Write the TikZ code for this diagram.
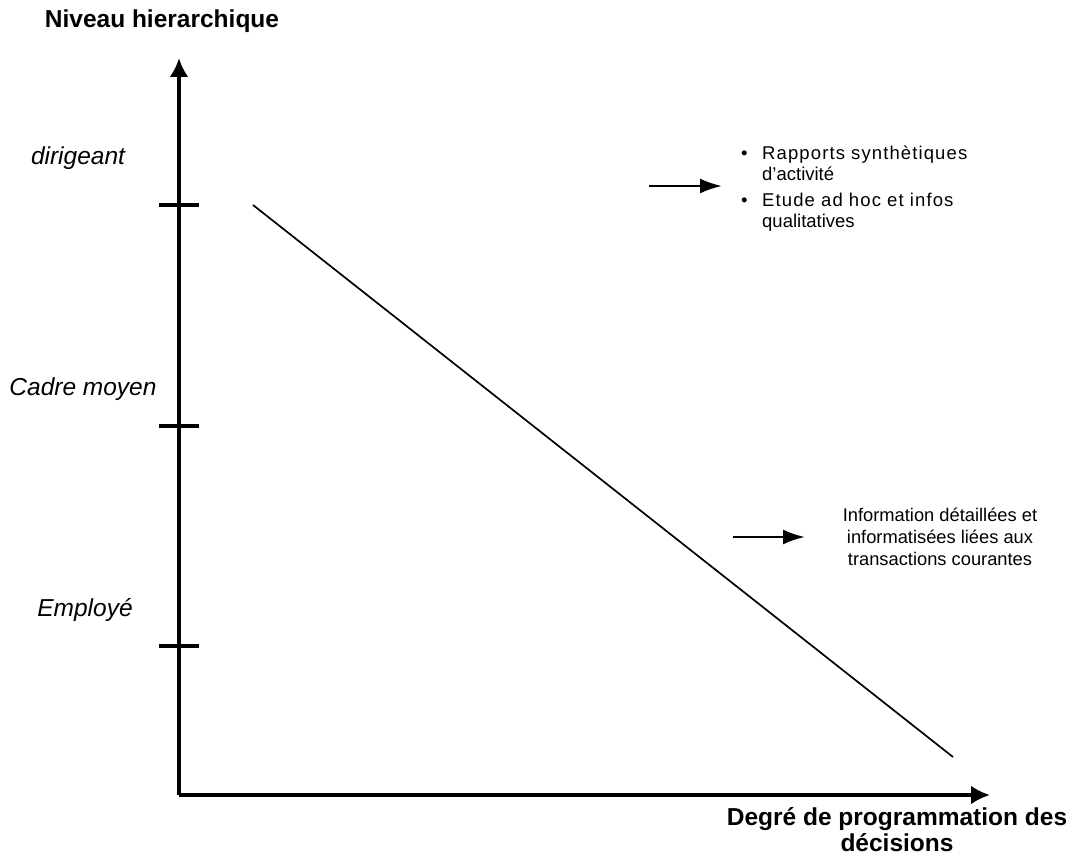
\documentclass[tikz,border=0pt]{standalone}
\usepackage{fontspec}
\setmainfont{Liberation Sans}
\usetikzlibrary{positioning,arrows.meta}
\tikzset{
  axisline/.style={-{Latex[length=19pt,width=19pt]}, line width=4pt},
  tickline/.style={line width=3.5pt},
  trendline/.style={line width=1.7pt},
  pointer/.style={-{Latex[length=22pt,width=15pt]}, line width=2.5pt},
  axislabel/.style={font=\fontsize{24.5}{26}\selectfont\bfseries, align=center, inner sep=0pt},
  levellabel/.style={font=\fontsize{24.5}{28}\selectfont\itshape, inner sep=0pt},
  infotext/.style={font=\fontsize{18.3}{22}\selectfont, align=center, inner sep=0pt}
}

\begin{document}
\begin{tikzpicture}[x=1pt, y=-1pt]
  \useasboundingbox (0,0) rectangle (1075,856);
  % axes
  \coordinate (o) at (179,795);
  \coordinate (ytop) at (179,58);
  \coordinate (xend) at (990,795);
  \draw[axisline] (o) -- (ytop);
  \draw[axisline] (o) -- (xend);
  \node[axislabel] (ylab) at (162,21) {Niveau hierarchique};
  \node[axislabel] (xlab) at (897,830) {Degré de programmation des\\décisions};
  % levels
  \foreach \name/\y in {dir/205, cad/426, emp/646} {
    \coordinate (\name l) at (159,\y);
    \coordinate (\name r) at (199,\y);
    \draw[tickline] (\name l) -- (\name r);
  }
  \node[levellabel] (dirlab) at (78,158) {dirigeant};
  \node[levellabel] (cadlab) at (83,389) {Cadre moyen};
  \node[levellabel] (emplab) at (85,610) {Employé};
  % trend
  \coordinate (t1) at (253,205);
  \coordinate (t2) at (953,757);
  \draw[trendline] (t1) -- (t2);
  % top note
  \node[anchor=north west, inner sep=0pt, font=\fontsize{18.5}{21}\selectfont, text width=240pt] (topnote) at (741,146) {%
    \makebox[21pt][l]{\textbullet}\makebox[209pt][s]{\addfontfeature{LetterSpace=6}Rapports synthètiques}\\
    \hspace*{21pt}d'activité\\[5pt]
    \makebox[21pt][l]{\textbullet}\makebox[209pt][s]{\addfontfeature{LetterSpace=6}Etude ad hoc et infos}\\
    \hspace*{21pt}qualitatives};
  \coordinate (p1) at (649,186);
  \coordinate (p1e) at (722,186);
  \draw[pointer] (p1) -- (p1e);
  % bottom note
  \node[infotext] (botnote) at (940,537) {Information détaillées et\\informatisées liées aux\\transactions courantes};
  \coordinate (p2) at (733,537);
  \coordinate (p2e) at (805,537);
  \draw[pointer] (p2) -- (p2e);
\end{tikzpicture}
\end{document}
